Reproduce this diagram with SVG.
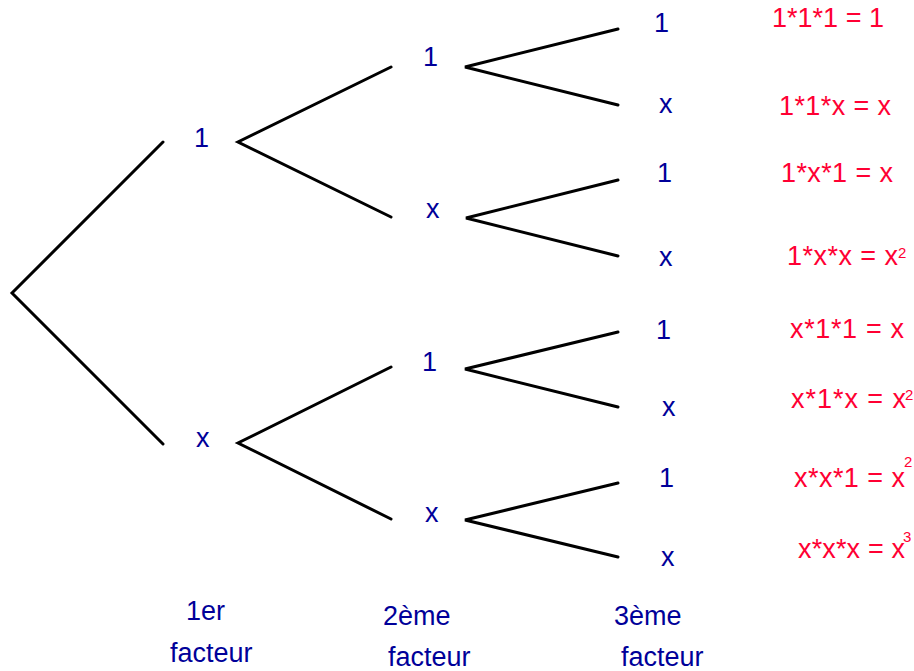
<svg xmlns="http://www.w3.org/2000/svg" width="914" height="671" viewBox="0 0 914 671">
<style>
.e{stroke:#000;stroke-width:3;fill:none;stroke-linecap:round}
.n{font-family:"Liberation Sans",Arial,sans-serif;font-size:27px;fill:#000099}
.r{font-family:"Liberation Sans",Arial,sans-serif;font-size:27px;fill:#FF0033}
.s{font-family:"Liberation Sans",Arial,sans-serif;font-size:15px;fill:#FF0033}
</style>
<rect width="914" height="671" fill="#fff"/>
<g id="connectors">
<path class="e" d="M163,142 L12,293 L163,444"/>
<path class="e" d="M391,67 L238,142 L391,217"/>
<path class="e" d="M391,367 L238,443 L391,519"/>
<path class="e" d="M618,29 L465,67 L618,105"/>
<path class="e" d="M618,180 L466,218 L618,256"/>
<path class="e" d="M618,332 L465,369 L618,407"/>
<path class="e" d="M618,483 L465,520 L618,557"/>
</g>
<g id="n1"><text class="n" x="194" y="147">1</text></g>
<g id="nx"><text class="n" x="196" y="447">x</text></g>
<g id="n11"><text class="n" x="423" y="66">1</text></g>
<g id="n1x"><text class="n" x="426" y="218">x</text></g>
<g id="nx1"><text class="n" x="422" y="371">1</text></g>
<g id="nxx"><text class="n" x="425" y="522">x</text></g>
<g id="n111"><text class="n" x="654" y="32">1</text></g>
<g id="n11x"><text class="n" x="659" y="113">x</text></g>
<g id="n1x1"><text class="n" x="657" y="182">1</text></g>
<g id="n1xx"><text class="n" x="659" y="266">x</text></g>
<g id="nx11"><text class="n" x="656" y="339">1</text></g>
<g id="nx1x"><text class="n" x="662" y="416">x</text></g>
<g id="nxx1"><text class="n" x="659" y="487">1</text></g>
<g id="nxxx"><text class="n" x="661" y="566">x</text></g>
<g id="r1"><text class="r" x="772" y="27" textLength="112" lengthAdjust="spacing" xml:space="preserve">1*1*1 = 1</text></g>
<g id="r2"><text class="r" x="779" y="115" textLength="112" lengthAdjust="spacing" xml:space="preserve">1*1*x = x</text></g>
<g id="r3"><text class="r" x="781" y="182" textLength="112" lengthAdjust="spacing" xml:space="preserve">1*x*1 = x</text></g>
<g id="r4"><text class="r" x="787" y="265" textLength="111" lengthAdjust="spacing" xml:space="preserve">1*x*x = x</text><text class="s" x="898" y="258">2</text></g>
<g id="r5"><text class="r" x="790" y="338" textLength="114" lengthAdjust="spacing" xml:space="preserve">x*1*1 = x</text></g>
<g id="r6"><text class="r" x="791" y="408" textLength="115" lengthAdjust="spacing" xml:space="preserve">x*1*x = x</text><text class="s" x="905" y="400">2</text></g>
<g id="r7"><text class="r" x="794" y="487" textLength="111" lengthAdjust="spacing" xml:space="preserve">x*x*1 = x</text><text class="s" x="904" y="467">2</text></g>
<g id="r8"><text class="r" x="798" y="558" textLength="107" lengthAdjust="spacing" xml:space="preserve">x*x*x = x</text><text class="s" x="903" y="542">3</text></g>
<g id="l1"><text class="n" x="186" y="620">1er</text><text class="n" x="170" y="662">facteur</text></g>
<g id="l2"><text class="n" x="383" y="625">2ème</text><text class="n" x="388" y="666">facteur</text></g>
<g id="l3"><text class="n" x="614" y="625">3ème</text><text class="n" x="621" y="666">facteur</text></g>
</svg>
